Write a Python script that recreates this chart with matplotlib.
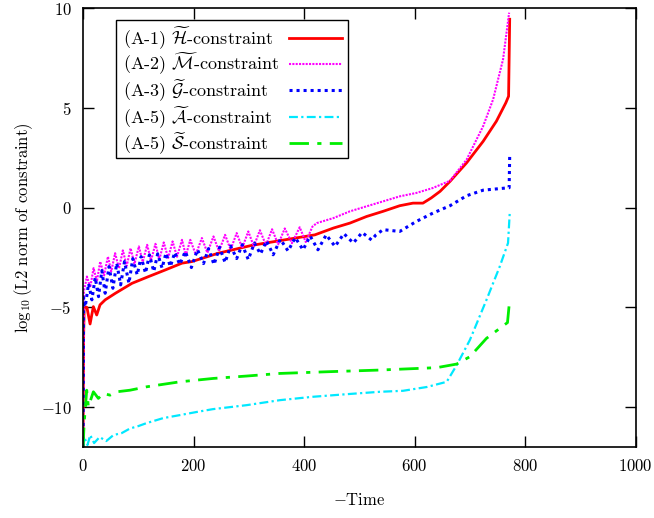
"""Constraint violation growth, log10 L2 norm vs -Time."""
import matplotlib
matplotlib.use("Agg")
import matplotlib.pyplot as plt
from matplotlib.patches import Rectangle

plt.rcParams["font.family"] = "serif"
plt.rcParams["font.serif"] = ["cmr10"]
plt.rcParams["mathtext.fontset"] = "cm"
plt.rcParams["axes.formatter.use_mathtext"] = True
plt.rcParams["font.size"] = 12

# (A-1) H-constraint
h_t = [0, 1, 2, 7, 12.7, 18.6, 24.7, 30.7, 40, 58.5, 88.6, 118.8, 148.8, 179, 197,
       244.7, 305, 365, 419.5, 453, 483, 513, 543, 573, 597, 615, 630, 646, 664,
       694, 724, 748, 765, 770, 772]
h_v = [-12, -6.5, -4.96, -5.0, -5.83, -4.96, -5.38, -4.87, -4.62, -4.29, -3.79,
       -3.45, -3.12, -2.78, -2.70, -2.28, -1.89, -1.61, -1.36, -1.02, -0.77, -0.44,
       -0.18, 0.1, 0.23, 0.23, 0.49, 0.82, 1.32, 2.25, 3.33, 4.34, 5.26, 5.59, 9.45]

# (A-2) M-constraint
m_t = [0, 1.5, 7, 13, 19, 25, 31, 38, 45, 51, 58, 65, 72, 79, 86, 93, 101, 108,
       116, 123, 131, 138, 146, 154, 162, 170, 179, 186, 194, 204, 215, 225, 236,
       246, 257, 267, 278, 288, 299, 309, 320, 331, 342, 353, 365, 378, 392, 403,
       415, 423, 453, 483, 513, 543, 573, 603, 633, 664, 694, 724, 742, 760, 771]
m_v = [-12, -4.2, -3.45, -4.0, -3.03, -3.7, -2.70, -3.4, -2.45, -3.2, -2.28, -3.05,
       -2.14, -2.92, -2.03, -2.82, -1.94, -2.72, -1.86, -2.65, -1.81, -2.6, -1.74,
       -2.52, -1.69, -2.46, -1.61, -2.4, -1.61, -2.35, -1.52, -2.26, -1.44, -2.18,
       -1.36, -2.1, -1.27, -2.02, -1.19, -1.94, -1.13, -1.88, -1.08, -1.84, -1.04,
       -1.78, -0.98, -1.72, -0.95, -0.77, -0.52, -0.18, 0.07, 0.32, 0.57, 0.74,
       0.99, 1.35, 2.41, 4.09, 5.43, 7.44, 9.78]

# (A-3) G-constraint
g_t = [0, 1, 4, 10, 16, 22, 28, 34, 40, 47, 54, 61, 68, 75, 83, 90, 98, 105, 113,
       120, 128, 135, 143, 150, 158, 166, 175, 185, 196, 207, 218, 227, 237, 247,
       257, 267, 278, 288, 299, 310, 321, 332, 344, 357, 371, 384, 398, 411, 425,
       440, 456, 472, 489, 505, 522, 530, 543, 573, 603, 633, 664, 694, 724, 766,
       771, 772]
g_v = [-12, -4.5, -4.96, -3.8, -4.62, -3.5, -4.46, -3.15, -4.29, -2.95, -4.04,
       -2.78, -3.87, -2.7, -3.79, -2.55, -3.37, -2.45, -3.28, -2.36, -3.2, -2.31,
       -3.03, -2.28, -2.95, -2.24, -2.85, -2.19, -3.0, -2.1, -2.8, -2.05, -2.85,
       -1.98, -2.75, -1.92, -2.55, -1.85, -2.6, -1.77, -2.32, -1.66, -2.36, -1.58,
       -2.17, -1.5, -2.11, -1.42, -2.11, -1.36, -1.94, -1.3, -1.77, -1.24, -1.62,
       -1.36, -1.1, -1.19, -0.69, -0.27, 0.1, 0.6, 0.88, 0.99, 1.0, 2.58]

# (A-5) A-constraint
a_t = [0, 2, 8, 13, 20, 30, 42, 55, 70, 85, 100, 115, 145, 175, 206, 235, 296,
       356, 416, 477, 537, 579, 622, 658, 676, 700, 730, 754, 769, 772]
a_v = [-12, -11.5, -11.9, -11.4, -11.8, -11.5, -11.7, -11.4, -11.3, -11.07,
       -10.95, -10.8, -10.55, -10.4, -10.24, -10.1, -9.9, -9.65, -9.48, -9.35,
       -9.23, -9.18, -8.99, -8.73, -7.9, -6.63, -4.62, -2.95, -1.77, -0.3]

# (A-5) S-constraint
s_t = [0, 2, 6.6, 9.6, 18.7, 27.7, 36.7, 48.8, 60.9, 85, 115, 175, 235.7, 296,
       356, 447, 537, 579, 640, 676, 700, 730, 768, 772]
s_v = [-12, -10.8, -9.15, -9.98, -9.23, -9.56, -9.31, -9.4, -9.23, -9.15, -8.98,
       -8.73, -8.56, -8.44, -8.31, -8.22, -8.14, -8.09, -8.02, -7.84, -7.47, -6.55,
       -5.76, -4.6]

labels = [
    r"(A-1) $\widetilde{\mathcal{H}}$-constraint",
    r"(A-2) $\widetilde{\mathcal{M}}$-constraint",
    r"(A-3) $\widetilde{\mathcal{G}}$-constraint",
    r"(A-5) $\widetilde{\mathcal{A}}$-constraint",
    r"(A-5) $\widetilde{\mathcal{S}}$-constraint",
]

styles = [
    dict(color="#ff0000", lw=2.0, ls="-"),
    dict(color="#ff00ff", lw=1.5, ls=(0, (1, 0.6))),
    dict(color="#0000ff", lw=2.2, ls=(0, (1, 1.3))),
    dict(color="#00e8ff", lw=1.6, ls=(0, (4, 1.5, 1, 1.5))),
    dict(color="#00ee00", lw=2.0, ls=(0, (7, 3, 1.5, 3))),
]

fig = plt.figure(figsize=(6.54, 5.18), dpi=100)
ax = fig.add_axes([0.127, 0.137, 0.845, 0.847])

series = [(h_t, h_v), (m_t, m_v), (g_t, g_v), (a_t, a_v), (s_t, s_v)]
for (t, v), st in zip(series, styles):
    ax.plot(t, v, **st)

ax.set_xlim(0, 1000)
ax.set_ylim(-12, 10)
ax.set_xticks([0, 200, 400, 600, 800, 1000])
ax.set_yticks([-10, -5, 0, 5, 10])
ax.tick_params(direction="in", length=8, width=1, top=True, right=True, pad=8)
for sp in ax.spines.values():
    sp.set_linewidth(1.2)

ax.set_xlabel(r"$-$Time", labelpad=13)
ax.set_ylabel(r"$\log_{10}$(L2 norm of constraint)")

# gnuplot-style key: text left, sample on the right
ax.add_patch(Rectangle((0.0597, 0.659), 0.419, 0.315, transform=ax.transAxes,
                       facecolor="white", edgecolor="black", lw=1.0, zorder=5))
row_y = [0.933, 0.874, 0.814, 0.753, 0.692]
for y, lab, st in zip(row_y, labels, styles):
    ax.text(0.0723, y, lab, transform=ax.transAxes, ha="left", va="center",
            fontsize=13, zorder=6)
    ax.plot([0.3725, 0.468], [y, y], transform=ax.transAxes, zorder=6, **st)

fig.savefig("out.png", dpi=100)
